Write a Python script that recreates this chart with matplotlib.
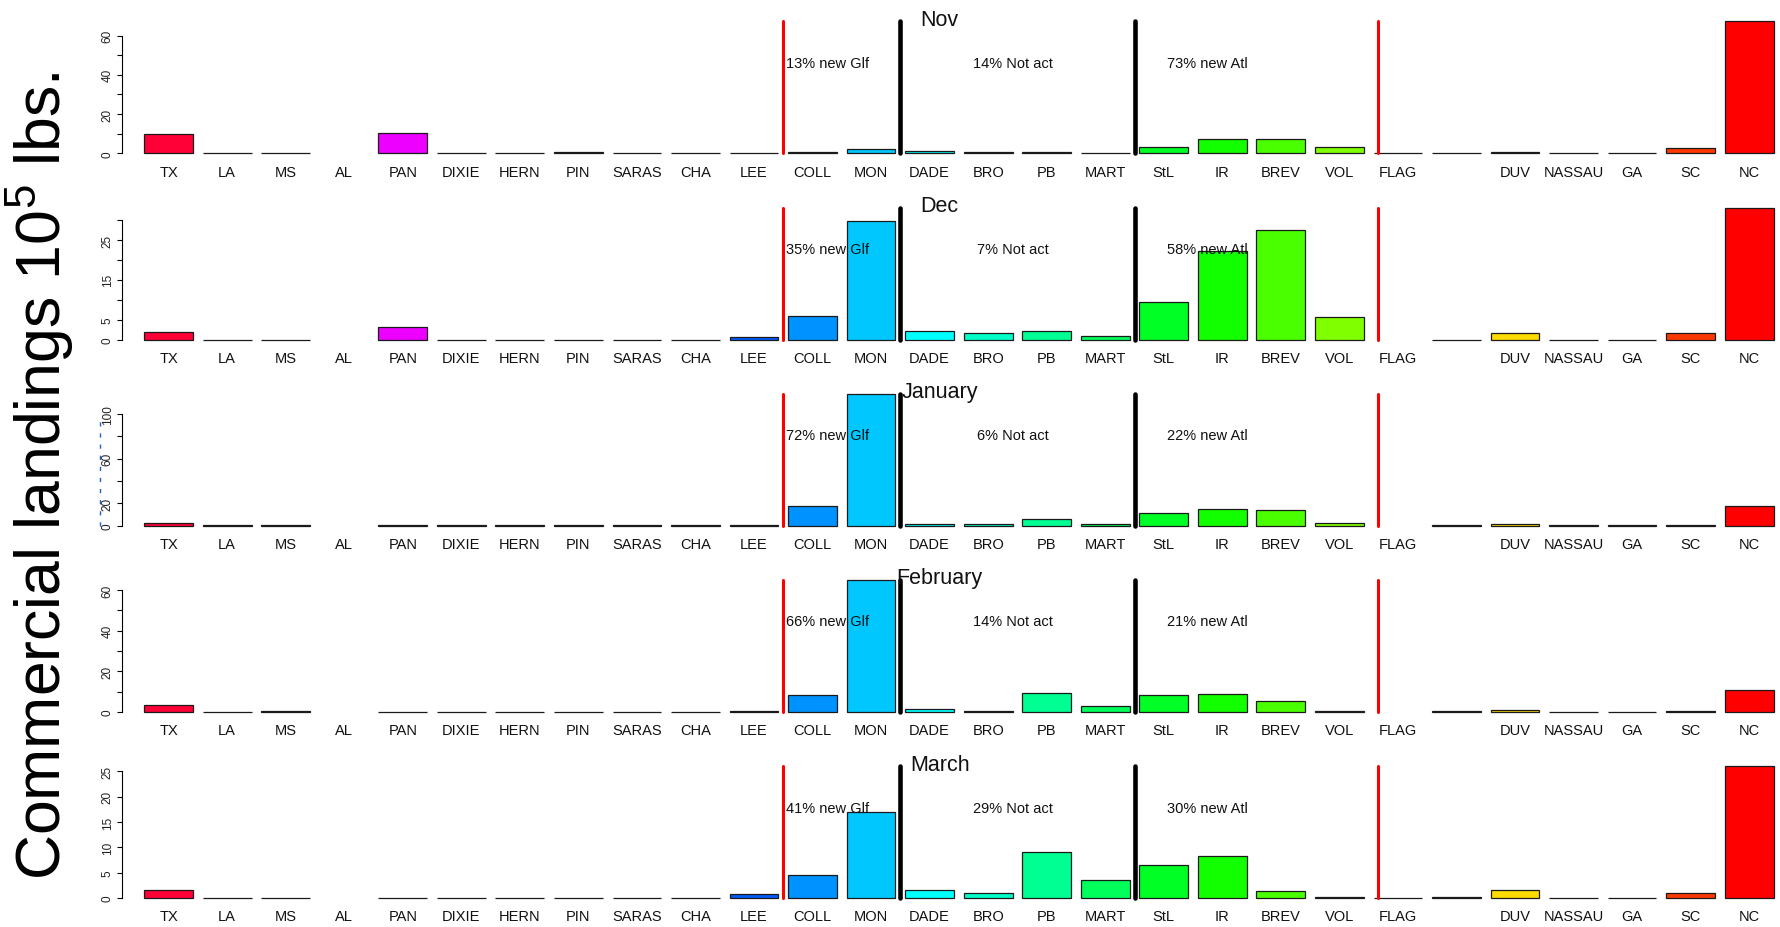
import numpy as np
import matplotlib
matplotlib.use("Agg")
import matplotlib.pyplot as plt
import matplotlib.colors as mcolors
import matplotlib.transforms as mtransforms

plt.rcParams['font.family'] = ['Liberation Sans', 'DejaVu Sans']
plt.rcParams['mathtext.fontset'] = 'custom'
plt.rcParams['mathtext.rm'] = 'Liberation Sans'
plt.rcParams['mathtext.it'] = 'Liberation Sans:italic'

nan = np.nan

# ---------------- data ----------------
categories = ["TX", "LA", "MS", "AL", "PAN", "DIXIE", "HERN", "PIN", "SARAS", "CHA",
              "LEE", "COLL", "MON", "DADE", "BRO", "PB", "MART", "StL", "IR", "BREV",
              "VOL", "FLAG", "", "DUV", "NASSAU", "GA", "SC", "NC"]

months = ["Nov", "Dec", "January", "February", "March"]

nov = [10.0, 0.0, 0.0, nan, 10.5, 0.0, 0.0, 0.5, 0.0, 0.0,
       0.0, 0.5, 2.0, 1.3, 0.5, 0.5, 0.0, 3.1, 7.5, 7.4,
       3.2, 0.0, 0.0, 0.5, 0.0, 0.0, 2.5, 67.3]
dec = [2.0, 0.0, 0.0, nan, 3.1, 0.0, 0.0, 0.0, 0.0, 0.0,
       0.7, 5.9, 29.9, 2.1, 1.6, 2.2, 1.0, 9.5, 22.3, 27.5,
       5.6, nan, 0.0, 1.6, 0.0, 0.0, 1.6, 33.2]
jan = [2.4, 0.2, 0.2, nan, 0.2, 0.2, 0.2, 0.2, 0.2, 0.2,
       0.2, 17.7, 118.0, 1.2, 1.2, 5.7, 1.2, 11.1, 15.3, 14.1,
       2.5, nan, 0.3, 1.2, 0.2, 0.2, 1.0, 17.5]
feb = [3.4, 0.1, 0.2, nan, 0.1, 0.1, 0.1, 0.1, 0.1, 0.1,
       0.5, 8.4, 65.0, 1.5, 0.5, 9.5, 2.8, 8.4, 9.0, 5.6,
       0.2, nan, 0.2, 0.7, 0.1, 0.1, 0.6, 10.7]
mar = [1.5, 0.1, 0.1, nan, 0.1, 0.1, 0.1, 0.1, 0.1, 0.1,
       0.85, 4.6, 17.0, 1.5, 1.05, 9.1, 3.6, 6.5, 8.3, 1.3,
       0.3, 0.1, 0.3, 1.5, 0.1, 0.1, 1.05, 26.0]
values = [nov, dec, jan, feb, mar]

glf_text = ["13% new Glf", "35% new Glf", "72% new Glf", "66% new Glf", "41% new Glf"]
notact_text = ["14% Not act", "7% Not act", "6% Not act", "14% Not act", "29% Not act"]
atl_text = ["73% new Atl", "58% new Atl", "22% new Atl", "21% new Atl", "30% new Atl"]

ytick_max = [60, 30, 100, 60, 25]
ytick_step = [10, 5, 20, 10, 5]
ytick_shown = [[0, 20, 40, 60], [0, 5, 15, 25], [0, 20, 60, 100], [0, 20, 40, 60],
               [0, 5, 10, 15, 20, 25]]

# ---------------- layout ----------------
W, H = 1781, 928
fig = plt.figure(figsize=(W / 100, H / 100), dpi=100)

n = len(categories)
xpos = np.arange(n)
cols = [mcolors.hsv_to_rgb(((n - 1 - i) / n, 1.0, 1.0)) for i in range(n)]

axis_px = 122.0
first_center = 168.6
pitch = 58.54
xlim_lo = (axis_px - first_center) / pitch
xlim_hi = (W - first_center) / pitch

red_lines = [10.5, 20.66]
black_lines = [12.5, 16.5]
glf_x, notact_x, atl_x = 11.25, 14.42, 17.75
title_x = 13.17

base0 = 154.3
row_step = 186.2
bar_px = 132.0
below_px = 8.0
above_px = 4.0

def px_offset(ax, dy_px):
    return ax.transData + mtransforms.ScaledTranslation(0, dy_px / 100.0, fig.dpi_scale_trans)

for k, vals in enumerate(values):
    v = np.array(vals, dtype=float)
    vmax = np.nanmax(v)
    baseline = base0 + row_step * k
    bottom = 1 - (baseline + below_px) / H
    height = (bar_px + below_px + above_px) / H
    ax = fig.add_axes([axis_px / W, bottom, 1 - axis_px / W, height])
    ppu = bar_px / vmax
    ax.set_ylim(-below_px / ppu, vmax + above_px / ppu)
    ax.set_xlim(xlim_lo, xlim_hi)

    mask = ~np.isnan(v)
    ax.bar(xpos[mask], v[mask], width=0.833, color=[cols[i] for i in xpos[mask]],
           edgecolor='#1a1a1a', linewidth=0.9, zorder=2)

    for xl in red_lines:
        ax.plot([xl, xl], [0, vmax], color='#ff0000', lw=2.2, solid_capstyle='round', zorder=3)
    for xl in black_lines:
        ax.plot([xl, xl], [0, vmax], color='black', lw=3.3, solid_capstyle='round', zorder=3)

    for spn in ['top', 'right', 'bottom']:
        ax.spines[spn].set_visible(False)
    ax.spines['left'].set_bounds(0, ytick_max[k])
    ax.spines['left'].set_linewidth(0.8)
    ticks = np.arange(0, ytick_max[k] + 0.001, ytick_step[k])
    ax.set_yticks(ticks)
    ax.set_yticklabels([str(int(t)) if int(t) in ytick_shown[k] else "" for t in ticks],
                       rotation=90, va='center', fontsize=8.5, color='#222222')
    ax.tick_params(axis='y', length=3.5, width=0.8, pad=2.5)
    ax.set_xticks([])

    lab_tr = px_offset(ax, -22.4)
    for i, c in enumerate(categories):
        ax.text(i, 0, c, transform=lab_tr, ha='center', va='baseline', fontsize=10.5,
                color='#111111', clip_on=False)

    txt_tr = px_offset(ax, -6.0)
    for xx, t in [(glf_x, glf_text[k]), (notact_x, notact_text[k]), (atl_x, atl_text[k])]:
        ax.text(xx, 0.7 * vmax, t, transform=txt_tr, ha='center', va='baseline',
                fontsize=10.5, color='#111111', zorder=4)

    ttl_tr = px_offset(ax, 128.5)
    ax.text(title_x, 0, months[k], transform=ttl_tr, ha='center', va='baseline',
            fontsize=15.5, color='#111111', clip_on=False, zorder=4)

    if k == 2:
        ax.plot([-1.17, -1.17], [0, 96], color='#1f5fcf', lw=1.0, ls=(0, (3, 5)),
                clip_on=False)

fig.text(0.0224, 0.487, 'Commercial landings 10$^{5}$ lbs.', rotation=90,
         ha='center', va='center', fontsize=45, color='black')

fig.savefig('out.png', dpi=100)
